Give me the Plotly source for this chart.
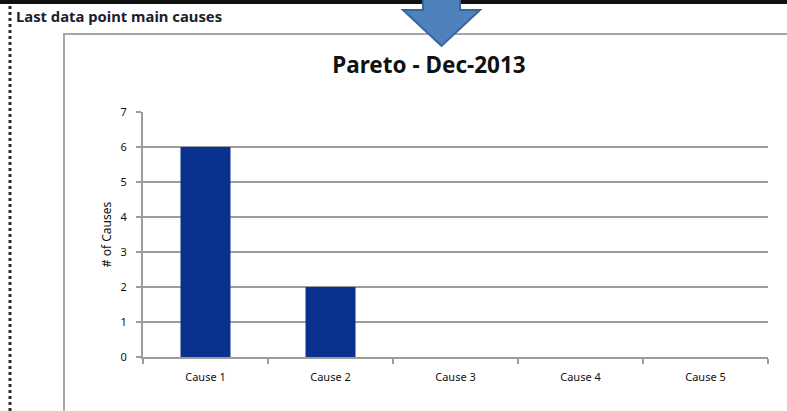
import plotly.graph_objects as go

categories = ["Cause 1", "Cause 2", "Cause 3", "Cause 4", "Cause 5"]
counts = [6, 2, 0, 0, 0]
y_tick_values = [0, 1, 2, 3, 4, 5, 6, 7]
title_text = "Pareto - Dec-2013"
header_text = "Last data point main causes"
y_title = "# of Causes"

W, H = 787, 411
L, R, T, B = 143, 19, 112, 54
PW, PH = W - L - R, H - T - B


def px(x):
    return (x - L) / PW


def py(y):
    return (H - B - y) / PH


GRID = "#9c9c9c"
FONT = "Noto Sans"

fig = go.Figure(
    go.Bar(
        x=categories,
        y=counts,
        width=0.4,
        marker=dict(color="#0b318f", line=dict(width=0)),
        hoverinfo="x+y",
    )
)

shapes = []
# black band at top
shapes.append(dict(type="rect", xref="paper", yref="paper",
                   x0=px(0), x1=px(W), y0=py(0), y1=py(4),
                   fillcolor="#111111", line=dict(width=0), layer="above"))
# dotted frame line at left
shapes.append(dict(type="line", xref="paper", yref="paper",
                   x0=px(10), x1=px(10), y0=py(6), y1=py(H),
                   line=dict(color="#2a2a2a", width=3, dash="dot")))
# chart box border
shapes.append(dict(type="line", xref="paper", yref="paper",
                   x0=px(64), x1=px(64), y0=py(34), y1=py(H + 2),
                   line=dict(color="#a6a6a6", width=2)))
shapes.append(dict(type="line", xref="paper", yref="paper",
                   x0=px(63), x1=px(W + 2), y0=py(34), y1=py(34),
                   line=dict(color="#a6a6a6", width=2)))
# blue arrow
pts = [(423, -2), (460, -2), (460, 10), (480, 10), (441.5, 46), (403, 10), (423, 10)]
path = "M " + " L ".join(f"{px(a):.5f},{py(b):.5f}" for a, b in pts) + " Z"
shapes.append(dict(type="path", xref="paper", yref="paper", path=path,
                   fillcolor="#4f81bd", line=dict(color="#3a659a", width=2),
                   layer="above"))

fig.update_layout(
    width=W, height=H,
    margin=dict(l=L, r=R, t=T, b=B),
    paper_bgcolor="white", plot_bgcolor="white",
    showlegend=False,
    shapes=shapes,
    title=dict(text=f"<b>{title_text}</b>", xref="paper", yref="container",
               x=px(429), xanchor="center", y=1 - 65 / H, yanchor="middle",
               font=dict(family=FONT, size=22.5, color="#111111")),
    annotations=[dict(text=f"<b>{header_text}</b>", xref="paper", yref="paper",
                      x=px(14), y=py(16), xanchor="left", yanchor="middle",
                      showarrow=False,
                      font=dict(family=FONT, size=14.8, color="#1c1c30"))],
    font=dict(family=FONT, size=11, color="#111111"),
    bargap=0.6,
)

fig.update_xaxes(
    range=[-0.5, 4.5],
    showline=True, linecolor=GRID, linewidth=2,
    ticks="outside", tickson="boundaries", ticklen=5, tickwidth=2, tickcolor=GRID,
    showgrid=False,
    tickfont=dict(family=FONT, size=11, color="#111111"),
    ticklabelstandoff=9,
)
fig.update_yaxes(
    range=[0, 7], tickvals=y_tick_values,
    showgrid=True, gridcolor=GRID, gridwidth=2,
    showline=True, linecolor=GRID, linewidth=2,
    ticks="outside", ticklen=5, tickwidth=2, tickcolor=GRID,
    zeroline=False,
    tickfont=dict(family=FONT, size=11, color="#111111"),
    ticklabelstandoff=7,
    title=dict(text=y_title, standoff=6,
               font=dict(family=FONT, size=12, color="#111111")),
)

fig.write_html("out.html", config={"displayModeBar": False},
               post_script="document.body.style.margin='0px';")
